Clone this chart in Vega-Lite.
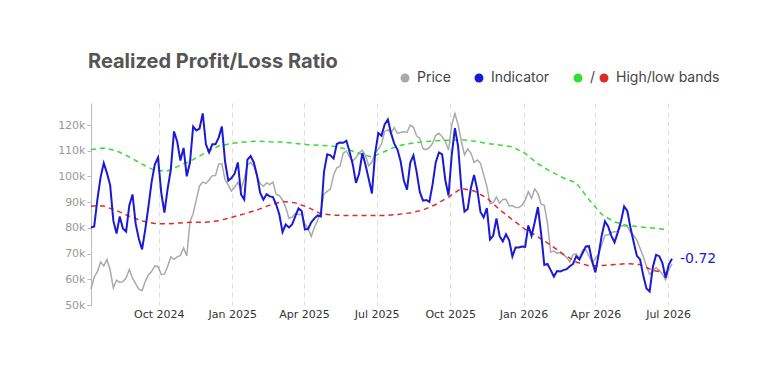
{
  "$schema": "https://vega.github.io/schema/vega-lite/v6.json",
  "width": 581,
  "height": 202,
  "autosize": {"type": "none"},
  "padding": {"left": 91, "top": 103, "right": 108, "bottom": 75},
  "background": "white",
  "config": {"view": {"stroke": null}},
  "title": {"text": "Realized Profit/Loss Ratio", "anchor": "start", "frame": "group", "font": "Inter", "fontSize": 20, "fontWeight": "bold", "color": "#555555", "offset": 33, "dx": -3, "dy": 50, "baseline": "alphabetic"},
  "datasets": {
    "main": [
      {"d":"2024-07-08","p":56200,"i":0.25},{"d":"2024-07-12","p":60900,"i":0.28},{"d":"2024-07-16","p":63000,"i":1.11},{"d":"2024-07-20","p":66700,"i":1.80},{"d":"2024-07-24","p":65200,"i":2.24},{"d":"2024-07-28","p":67700,"i":1.93},{"d":"2024-08-01","p":63600,"i":1.56},{"d":"2024-08-05","p":56600,"i":0.46},{"d":"2024-08-09","p":59700,"i":0.06},{"d":"2024-08-13","p":58800,"i":0.59},{"d":"2024-08-17","p":59100,"i":0.22},{"d":"2024-08-21","p":60500,"i":0.12},{"d":"2024-08-25","p":63800,"i":0.93},{"d":"2024-08-29","p":60500,"i":1.27},{"d":"2024-09-02","p":58200,"i":0.36},{"d":"2024-09-06","p":56200,"i":-0.11},{"d":"2024-09-10","p":55600,"i":-0.43},{"d":"2024-09-14","p":59100,"i":0.19},{"d":"2024-09-18","p":61700,"i":0.90},{"d":"2024-09-22","p":63100,"i":1.67},{"d":"2024-09-26","p":65200,"i":2.20},{"d":"2024-09-30","p":64900,"i":2.41},{"d":"2024-10-04","p":61900,"i":1.33},{"d":"2024-10-08","p":62000,"i":0.71},{"d":"2024-10-12","p":65000,"i":1.44},{"d":"2024-10-16","p":68800,"i":2.04},{"d":"2024-10-20","p":67800,"i":3.22},{"d":"2024-10-24","p":68700,"i":2.91},{"d":"2024-10-28","p":69300,"i":2.32},{"d":"2024-11-01","p":72200,"i":2.71},{"d":"2024-11-05","p":69100,"i":1.83},{"d":"2024-11-09","p":82300,"i":2.26},{"d":"2024-11-13","p":85600,"i":3.37},{"d":"2024-11-17","p":91000,"i":3.25},{"d":"2024-11-21","p":96300,"i":3.31},{"d":"2024-11-25","p":97800,"i":3.78},{"d":"2024-11-29","p":97300,"i":2.82},{"d":"2024-12-03","p":98600,"i":2.57},{"d":"2024-12-07","p":100300,"i":2.82},{"d":"2024-12-11","p":100400,"i":2.82},{"d":"2024-12-15","p":104800,"i":3.03},{"d":"2024-12-19","p":105000,"i":3.37},{"d":"2024-12-23","p":98600,"i":2.29},{"d":"2024-12-27","p":96700,"i":1.70},{"d":"2024-12-31","p":94300,"i":1.78},
      {"d":"2025-01-04","p":95800,"i":1.92},{"d":"2025-01-08","p":97700,"i":2.26},{"d":"2025-01-12","p":95000,"i":1.27},{"d":"2025-01-16","p":99000,"i":1.11},{"d":"2025-01-20","p":104500,"i":2.35},{"d":"2025-01-24","p":105400,"i":2.46},{"d":"2025-01-28","p":104000,"i":2.26},{"d":"2025-02-01","p":100200,"i":1.86},{"d":"2025-02-05","p":97200,"i":1.32},{"d":"2025-02-09","p":96200,"i":1.11},{"d":"2025-02-13","p":97500,"i":1.28},{"d":"2025-02-17","p":96800,"i":1.21},{"d":"2025-02-21","p":97800,"i":1.19},{"d":"2025-02-25","p":93000,"i":0.96},{"d":"2025-03-01","p":92600,"i":0.65},{"d":"2025-03-05","p":90800,"i":0.11},{"d":"2025-03-09","p":87900,"i":0.34},{"d":"2025-03-13","p":83800,"i":0.25},{"d":"2025-03-17","p":84100,"i":0.34},{"d":"2025-03-21","p":85600,"i":0.59},{"d":"2025-03-25","p":85200,"i":0.84},{"d":"2025-03-29","p":85300,"i":0.76},{"d":"2025-04-02","p":81600,"i":0.19},{"d":"2025-04-06","p":79600,"i":0.20},{"d":"2025-04-10","p":76700,"i":0.41},{"d":"2025-04-14","p":80300,"i":0.53},{"d":"2025-04-18","p":82900,"i":0.62},{"d":"2025-04-22","p":86500,"i":0.59},{"d":"2025-04-26","p":93200,"i":1.98},{"d":"2025-04-30","p":94200,"i":2.51},{"d":"2025-05-04","p":95100,"i":2.48},{"d":"2025-05-08","p":100600,"i":2.38},{"d":"2025-05-12","p":103400,"i":2.83},{"d":"2025-05-16","p":104000,"i":2.88},{"d":"2025-05-20","p":109000,"i":2.87},{"d":"2025-05-24","p":109900,"i":2.93},{"d":"2025-05-28","p":107500,"i":2.59},{"d":"2025-06-01","p":106000,"i":2.20},{"d":"2025-06-05","p":107300,"i":1.63},{"d":"2025-06-09","p":109200,"i":1.92},{"d":"2025-06-13","p":110200,"i":2.55},{"d":"2025-06-17","p":108000,"i":2.18},{"d":"2025-06-21","p":104100,"i":1.75},{"d":"2025-06-25","p":105600,"i":1.30},{"d":"2025-06-29","p":109200,"i":2.54},{"d":"2025-07-03","p":110600,"i":3.17},{"d":"2025-07-07","p":112600,"i":3.09},{"d":"2025-07-11","p":117500,"i":3.44},{"d":"2025-07-15","p":118200,"i":3.59},{"d":"2025-07-19","p":116900,"i":3.16},{"d":"2025-07-23","p":119000,"i":2.84},{"d":"2025-07-27","p":116800,"i":2.66},{"d":"2025-07-31","p":117100,"i":2.29},{"d":"2025-08-04","p":117400,"i":1.70},{"d":"2025-08-08","p":117100,"i":1.42},{"d":"2025-08-12","p":120000,"i":2.25},{"d":"2025-08-16","p":119100,"i":2.48},{"d":"2025-08-20","p":115800,"i":1.97},{"d":"2025-08-24","p":114800,"i":1.35},{"d":"2025-08-28","p":110800,"i":1.08},{"d":"2025-09-01","p":110400,"i":1.10},{"d":"2025-09-05","p":111200,"i":1.04},{"d":"2025-09-09","p":112900,"i":1.58},{"d":"2025-09-13","p":116000,"i":2.27},{"d":"2025-09-17","p":116800,"i":2.57},{"d":"2025-09-21","p":115500,"i":2.51},{"d":"2025-09-25","p":113600,"i":1.71},{"d":"2025-09-29","p":110300,"i":1.24},{"d":"2025-10-03","p":120000,"i":2.49},{"d":"2025-10-07","p":124500,"i":3.32},{"d":"2025-10-11","p":120100,"i":2.76},{"d":"2025-10-15","p":113800,"i":1.49},{"d":"2025-10-19","p":108400,"i":0.74},{"d":"2025-10-23","p":110700,"i":0.82},{"d":"2025-10-27","p":109100,"i":1.47},{"d":"2025-10-31","p":105400,"i":1.87},{"d":"2025-11-04","p":106400,"i":1.42},{"d":"2025-11-08","p":105100,"i":0.73},{"d":"2025-11-12","p":100600,"i":0.56},{"d":"2025-11-16","p":96100,"i":0.85},{"d":"2025-11-20","p":89400,"i":-0.12},{"d":"2025-11-24","p":89800,"i":0.00},{"d":"2025-11-28","p":92000,"i":0.53},{"d":"2025-12-02","p":89600,"i":-0.02},{"d":"2025-12-06","p":91000,"i":-0.18},{"d":"2025-12-10","p":91100,"i":0.04},{"d":"2025-12-14","p":88600,"i":-0.15},{"d":"2025-12-18","p":88700,"i":-0.65},{"d":"2025-12-22","p":87900,"i":-0.37},{"d":"2025-12-26","p":87900,"i":-0.37},{"d":"2025-12-30","p":88700,"i":-0.34},
      {"d":"2026-01-03","p":90800,"i":-0.35},{"d":"2026-01-07","p":94100,"i":0.31},{"d":"2026-01-11","p":91500,"i":-0.01},{"d":"2026-01-15","p":95200,"i":0.41},{"d":"2026-01-19","p":93400,"i":0.88},{"d":"2026-01-23","p":89200,"i":0.06},{"d":"2026-01-27","p":88800,"i":-0.91},{"d":"2026-01-31","p":81700,"i":-0.88},{"d":"2026-02-04","p":70600,"i":-1.07},{"d":"2026-02-08","p":71000,"i":-1.27},{"d":"2026-02-12","p":70100,"i":-1.10},{"d":"2026-02-16","p":70400,"i":-1.11},{"d":"2026-02-20","p":69500,"i":-1.07},{"d":"2026-02-24","p":68500,"i":-1.04},{"d":"2026-02-28","p":66700,"i":-0.95},{"d":"2026-03-04","p":69600,"i":-0.88},{"d":"2026-03-08","p":69900,"i":-0.64},{"d":"2026-03-12","p":68200,"i":-0.74},{"d":"2026-03-16","p":71400,"i":-0.54},{"d":"2026-03-20","p":71400,"i":-0.34},{"d":"2026-03-24","p":69000,"i":-0.33},{"d":"2026-03-28","p":66500,"i":-0.80},{"d":"2026-04-01","p":68200,"i":-1.14},{"d":"2026-04-05","p":69800,"i":-0.60},{"d":"2026-04-09","p":73500,"i":0.01},{"d":"2026-04-13","p":77100,"i":0.44},{"d":"2026-04-17","p":77300,"i":0.28},{"d":"2026-04-21","p":78200,"i":-0.01},{"d":"2026-04-25","p":78500,"i":-0.21},{"d":"2026-04-29","p":78500,"i":0.09},{"d":"2026-05-03","p":80900,"i":0.43},{"d":"2026-05-07","p":80700,"i":0.90},{"d":"2026-05-11","p":80600,"i":0.76},{"d":"2026-05-15","p":78400,"i":0.24},{"d":"2026-05-19","p":77000,"i":-0.21},{"d":"2026-05-23","p":75200,"i":-0.63},{"d":"2026-05-27","p":72100,"i":-0.74},{"d":"2026-05-31","p":68900,"i":-1.24},{"d":"2026-06-04","p":65100,"i":-1.64},{"d":"2026-06-08","p":61900,"i":-1.73},{"d":"2026-06-12","p":63100,"i":-0.98},{"d":"2026-06-16","p":64500,"i":-0.60},{"d":"2026-06-20","p":63500,"i":-0.64},{"d":"2026-06-24","p":62000,"i":-0.85},{"d":"2026-06-28","p":59800,"i":-1.31},{"d":"2026-07-02","p":63700,"i":-0.90},{"d":"2026-07-06","p":66000,"i":-0.72}
    ],
    "bands": [
      {"d":"2024-07-08","hi":2.66,"lo":0.91},{"d":"2024-07-24","hi":2.71,"lo":0.91},{"d":"2024-08-09","hi":2.62,"lo":0.77},{"d":"2024-08-25","hi":2.43,"lo":0.60},{"d":"2024-09-10","hi":2.21,"lo":0.45},{"d":"2024-09-26","hi":2.01,"lo":0.37},{"d":"2024-10-12","hi":2.00,"lo":0.36},{"d":"2024-10-28","hi":2.17,"lo":0.39},{"d":"2024-11-13","hi":2.35,"lo":0.41},{"d":"2024-11-29","hi":2.57,"lo":0.41},{"d":"2024-12-15","hi":2.77,"lo":0.46},{"d":"2024-12-31","hi":2.85,"lo":0.56},{"d":"2025-01-16","hi":2.89,"lo":0.67},{"d":"2025-02-01","hi":2.92,"lo":0.79},{"d":"2025-02-17","hi":2.90,"lo":0.94},{"d":"2025-03-05","hi":2.89,"lo":1.05},{"d":"2025-03-21","hi":2.85,"lo":1.01},{"d":"2025-04-06","hi":2.81,"lo":0.87},{"d":"2025-04-22","hi":2.79,"lo":0.67},{"d":"2025-05-08","hi":2.76,"lo":0.63},{"d":"2025-05-24","hi":2.68,"lo":0.62},{"d":"2025-06-09","hi":2.54,"lo":0.62},{"d":"2025-06-25","hi":2.43,"lo":0.62},{"d":"2025-07-11","hi":2.60,"lo":0.62},{"d":"2025-07-27","hi":2.77,"lo":0.65},{"d":"2025-08-12","hi":2.85,"lo":0.70},{"d":"2025-08-28","hi":2.90,"lo":0.79},{"d":"2025-09-13","hi":2.93,"lo":0.96},{"d":"2025-09-29","hi":2.95,"lo":1.19},{"d":"2025-10-15","hi":2.97,"lo":1.46},{"d":"2025-10-31","hi":2.92,"lo":1.38},{"d":"2025-11-16","hi":2.85,"lo":1.16},{"d":"2025-12-02","hi":2.80,"lo":0.80},{"d":"2025-12-18","hi":2.74,"lo":0.49},{"d":"2026-01-03","hi":2.54,"lo":0.19},{"d":"2026-01-19","hi":2.22,"lo":-0.04},{"d":"2026-02-04","hi":1.98,"lo":-0.30},{"d":"2026-02-20","hi":1.78,"lo":-0.58},{"d":"2026-03-08","hi":1.63,"lo":-0.82},{"d":"2026-03-24","hi":1.11,"lo":-0.94},{"d":"2026-04-09","hi":0.65,"lo":-0.93},{"d":"2026-04-25","hi":0.42,"lo":-0.90},{"d":"2026-05-11","hi":0.31,"lo":-0.87},{"d":"2026-05-27","hi":0.27,"lo":-0.90},{"d":"2026-06-12","hi":0.23,"lo":-1.08},{"d":"2026-06-28","hi":0.19,"lo":-1.15}
    ],
    "last": [{"d":"2026-07-06","v":-0.72,"lab":"-0.72"}]
  },
  "encoding": {
    "x": {
      "field": "d", "type": "temporal",
      "scale": {"type": "utc", "domain": [{"year": 2024, "month": 7, "date": 8, "utc": true}, {"year": 2026, "month": 7, "date": 6, "utc": true}]},
      "axis": {"title": null, "format": "%b %Y", "tickCount": {"interval": "month", "step": 3}, "grid": true, "gridDash": [5, 4], "gridColor": "#dddddd", "domain": false, "ticks": false, "labelFlush": false, "labelColor": "#333333", "labelFont": "DejaVu Sans", "labelFontSize": 11, "labelPadding": 3}
    }
  },
  "layer": [
    {
      "data": {"name": "main"},
      "mark": {"type": "line", "strokeWidth": 1.5, "interpolate": "linear"},
      "encoding": {
        "y": {"field": "p", "type": "quantitative", "scale": {"domain": [50000, 128570], "nice": false, "zero": false},
              "axis": {"orient": "left", "title": null, "values": [50000, 60000, 70000, 80000, 90000, 100000, 110000, 120000], "format": "~s", "grid": false, "labelColor": "#999999", "labelFont": "DejaVu Sans", "labelFontSize": 11, "tickColor": "#bbbbbb", "domainColor": "#bbbbbb", "tickSize": 4, "labelPadding": 2}},
        "color": {"datum": "Price", "type": "nominal",
          "scale": {"domain": ["Price", "Indicator", "High band", "Low band"], "range": ["#aaaaaa", "#1a1ad6", "#33dd33", "#e02a2a"]},
          "legend": {"orient": "none", "legendX": 307, "legendY": -32, "direction": "horizontal", "title": null, "symbolType": "circle", "symbolSize": 80, "labelFont": "Inter", "labelFontSize": 14, "labelColor": "#444444", "columnPadding": 1, "labelOffset": 5,
            "labelExpr": "datum.label == 'High band' ? '/' : datum.label == 'Low band' ? 'High/low bands' : datum.label + '\u2800\u2800'",
            "encode": {"symbols": {"update": {"fill": {"scale": "color", "field": "value"}, "strokeWidth": {"value": 0}, "opacity": {"value": 1}}}}}
        }
      }
    },
    {
      "layer": [
        {
          "data": {"name": "bands"},
          "mark": {"type": "line", "strokeWidth": 1.5, "strokeDash": [5, 4]},
          "encoding": {
            "y": {"field": "hi", "type": "quantitative", "scale": {"domain": [-2.15, 4.1], "nice": false, "zero": false}, "axis": null},
            "color": {"datum": "High band", "type": "nominal"}
          }
        },
        {
          "data": {"name": "bands"},
          "mark": {"type": "line", "strokeWidth": 1.5, "strokeDash": [5, 4]},
          "encoding": {
            "y": {"field": "lo", "type": "quantitative", "axis": null},
            "color": {"datum": "Low band", "type": "nominal"}
          }
        },
        {
          "data": {"name": "main"},
          "mark": {"type": "line", "strokeWidth": 2},
          "encoding": {
            "y": {"field": "i", "type": "quantitative",
                  "axis": {"orient": "right", "title": null, "values": [-2, -1, 0, 1, 2, 3, 4], "grid": false, "labelColor": "#aaaaaa", "labelFont": "DejaVu Sans", "labelFontSize": 11, "tickColor": "#cccccc", "domainColor": "#cccccc", "tickSize": 4, "labelPadding": 2}},
            "color": {"datum": "Indicator", "type": "nominal"}
          }
        },
        {
          "data": {"name": "last"},
          "mark": {"type": "text", "align": "left", "baseline": "middle", "dx": 8, "font": "DejaVu Sans", "fontSize": 14, "color": "#1a1ad6"},
          "encoding": {
            "y": {"field": "v", "type": "quantitative", "axis": null},
            "text": {"field": "lab"}
          }
        }
      ]
    }
  ],
  "resolve": {"scale": {"y": "independent"}}
}
